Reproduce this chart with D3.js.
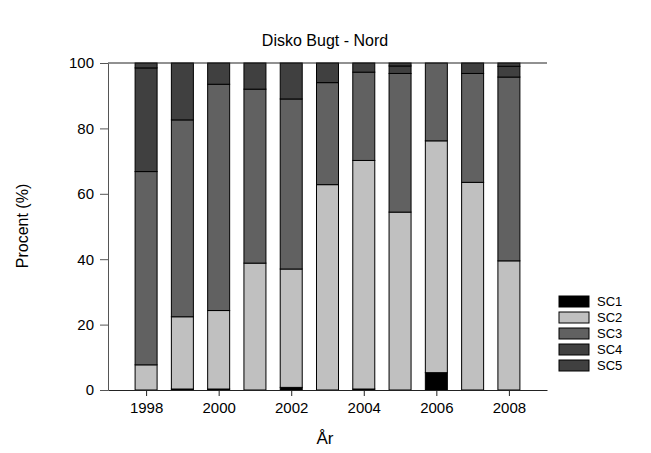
<!DOCTYPE html>
<html><head><meta charset="utf-8">
<script src="https://cdn.jsdelivr.net/npm/d3@7"></script>
<style>body{margin:0;background:#fff}svg{display:block}text{font-family:"Liberation Sans",Arial,sans-serif}</style>
</head><body><svg id="c" width="651" height="453"></svg>
<script>
const years = [1998,1999,2000,2001,2002,2003,2004,2005,2006,2007,2008];
const SC1 = [0,0.3,0.3,0,0.8,0,0.3,0,5.3,0,0];
const SC2 = [7.7,22.1,24.0,38.8,36.2,62.8,69.9,54.4,70.9,63.5,39.5];
const SC3 = [59.1,60.2,69.2,53.2,52.0,31.2,27.0,42.4,23.8,33.3,56.2];
const SC4 = [31.7,17.4,6.5,8.0,11.0,6.0,2.8,2.3,0,3.2,3.3];
const SC5 = [1.5,0,0,0,0,0,0,0.9,0,0,1.0];
const seriesNames = ["SC1","SC2","SC3","SC4","SC5"];
const colors = ["#000000","#c0c0c0","#616161","#404040","#404040"];
const yTicks = [0,20,40,60,80,100];
const xTicks = [1998,2000,2002,2004,2006,2008];

const svg = d3.select("#c");
const x = d3.scaleLinear().domain([1996.95,2009.05]).range([108,547]);
const y = d3.scaleLinear().domain([0,100]).range([390,63]);
const bw = 22;

const table = years.map((yr,i)=>({year:yr,SC1:SC1[i],SC2:SC2[i],SC3:SC3[i],SC4:SC4[i],SC5:SC5[i]}));
const stacked = d3.stack().keys(seriesNames)(table);

stacked.forEach((s,si)=>{
  svg.append("g").selectAll("rect").data(s.filter(d=>d[1]-d[0]>0)).join("rect")
    .attr("x",d=>x(d.data.year)-bw/2)
    .attr("y",d=>y(d[1]))
    .attr("width",bw)
    .attr("height",d=>y(d[0])-y(d[1]))
    .attr("fill",colors[si])
    .attr("stroke","#000").attr("stroke-width",1);
});

// top frame line
svg.append("line").attr("x1",108).attr("x2",547).attr("y1",y(100)).attr("y2",y(100)).attr("stroke","#222").attr("stroke-width",1);

const yAxis = svg.append("g").attr("transform","translate(108,0)")
  .call(d3.axisLeft(y).tickValues(yTicks).tickSizeInner(8).tickSizeOuter(0).tickPadding(6));
yAxis.select(".domain").attr("stroke","#555");
yAxis.selectAll(".tick line").attr("stroke","#555");
yAxis.selectAll("text").attr("font-size",15).attr("fill","#000").style("font-family","Liberation Sans, Arial, sans-serif");

const xAxis = svg.append("g").attr("transform","translate(0,390)")
  .call(d3.axisBottom(x).tickValues(xTicks).tickFormat(d3.format("d")).tickSizeInner(6).tickSizeOuter(0).tickPadding(6));
xAxis.select(".domain").attr("stroke","#222");
xAxis.selectAll(".tick line").attr("stroke","#222");
xAxis.selectAll("text").attr("font-size",15).attr("fill","#000").style("font-family","Liberation Sans, Arial, sans-serif");

svg.append("text").attr("x",325).attr("y",46).attr("text-anchor","middle").attr("font-size",16).text("Disko Bugt - Nord");
svg.append("text").attr("x",325).attr("y",444).attr("text-anchor","middle").attr("font-size",17).text("År");
svg.append("text").attr("transform","translate(28,226) rotate(-90)").attr("text-anchor","middle").attr("font-size",16).text("Procent (%)");

const leg = svg.append("g");
seriesNames.forEach((n,i)=>{
  const ly = 296 + i*16;
  leg.append("rect").attr("x",559).attr("y",ly).attr("width",30).attr("height",11).attr("fill",colors[i]).attr("stroke","#000").attr("stroke-width",1);
  leg.append("text").attr("x",597).attr("y",ly+10).attr("font-size",13).text(n);
});
</script></body></html>
